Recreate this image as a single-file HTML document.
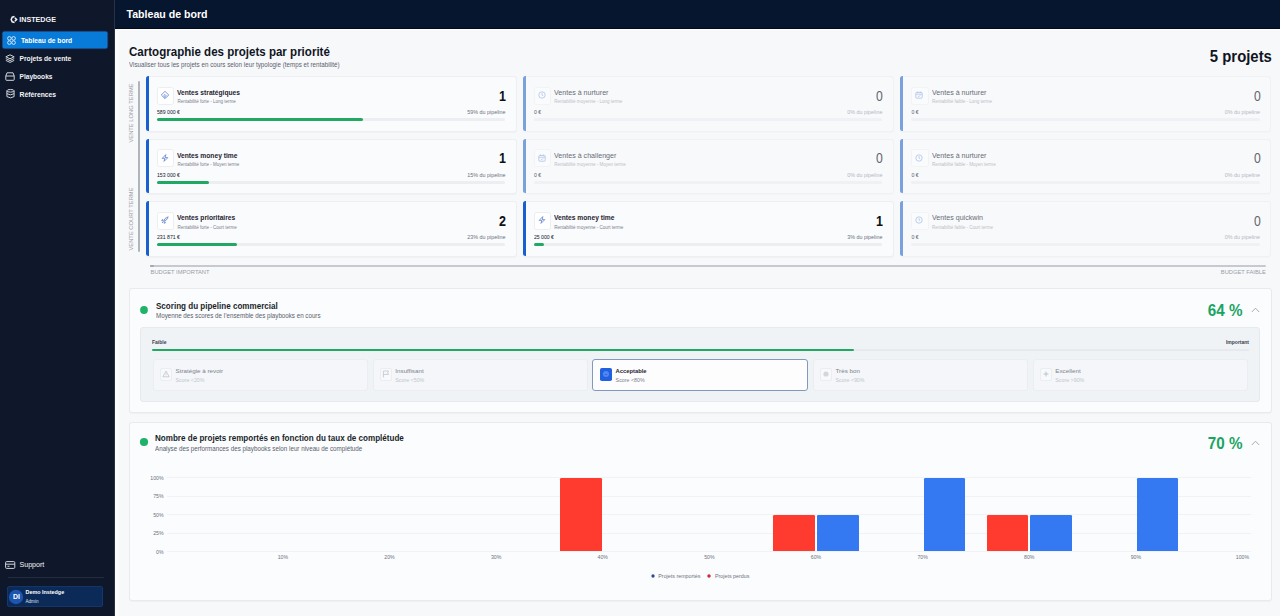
<!DOCTYPE html>
<html><head><meta charset="utf-8"><title>Tableau de bord</title>
<style>
html,body{margin:0;padding:0;}
body{width:1280px;height:616px;overflow:hidden;position:relative;background:#f7f8fa;font-family:"Liberation Sans",sans-serif;}
.r{position:absolute;}
.t{position:absolute;white-space:nowrap;}
svg.r{overflow:visible;}
#w{position:absolute;left:0;top:0;width:1280px;height:616px;overflow:hidden;}
</style></head><body>
<div id="w">
<div class="r" style="left:0.00px;top:0.00px;width:114.50px;height:616.00px;background:#0f172a;"></div>
<div class="r" style="left:113.60px;top:0.00px;width:1.00px;height:616.00px;background:#283145;"></div>
<svg class="r" style="left:10.20px;top:15.40px;" width="8" height="9" viewBox="0 0 8 9"><g fill="none" stroke="#f3f4f6" stroke-width="1.5"><path d="M4.6 1.6 L2.2 2.2 L1.2 4.5 L2.2 6.8 L4.6 7.4"/><path d="M4.9 2.9 L6.6 4.5 L4.9 6.1"/></g></svg>
<div class="t" style="top:16.31px;font-size:7.2px;line-height:7.2px;font-weight:bold;color:#f3f4f6;left:19.20px;">INSTEDGE</div>
<div class="r" style="left:3.00px;top:32.00px;width:104.00px;height:16.00px;background:#087ad8;border-radius:1.2px;box-shadow:0 0 0 0.5px rgba(110,185,250,0.45),0 0 1.6px 1px rgba(0,70,160,0.6);"></div>
<svg class="r" style="left:7.00px;top:35.80px;" width="9" height="9" viewBox="0 0 9 9"><g fill="none" stroke="#cfe6ff" stroke-width="1"><circle cx="2.4" cy="2.4" r="1.8"/><circle cx="6.6" cy="2.4" r="1.8"/><circle cx="2.4" cy="6.6" r="1.8"/><circle cx="6.6" cy="6.6" r="1.8"/></g></svg>
<div class="t" style="top:38.03px;font-size:6.7px;line-height:6.7px;font-weight:bold;color:#ffffff;left:21.00px;">Tableau de bord</div>
<svg class="r" style="left:5.20px;top:54.00px;" width="10" height="9" viewBox="0 0 10 9"><g fill="none" stroke="#d1d5db" stroke-width="1" stroke-linejoin="round"><path d="M5 0.8 L9.2 2.8 L5 4.8 L0.8 2.8 Z"/><path d="M0.8 4.6 L5 6.6 L9.2 4.6"/><path d="M0.8 6.4 L5 8.4 L9.2 6.4"/></g></svg>
<div class="t" style="top:55.93px;font-size:6.7px;line-height:6.7px;font-weight:bold;color:#f3f4f6;left:19.50px;">Projets de vente</div>
<svg class="r" style="left:5.20px;top:71.50px;" width="10" height="9" viewBox="0 0 10 9"><g fill="none" stroke="#d1d5db" stroke-width="1"><path d="M2 0.8 H8 L9.2 4 V7.6 Q9.2 8.3 8.5 8.3 H1.5 Q0.8 8.3 0.8 7.6 V4 Z"/><path d="M0.8 4 H9.2"/></g></svg>
<div class="t" style="top:73.91px;font-size:6.6px;line-height:6.6px;font-weight:bold;color:#f3f4f6;left:19.50px;">Playbooks</div>
<svg class="r" style="left:5.60px;top:89.20px;" width="9" height="9.5" viewBox="0 0 9 9.5"><g fill="none" stroke="#d1d5db" stroke-width="1"><ellipse cx="4.5" cy="1.8" rx="3.6" ry="1.3"/><path d="M0.9 1.8 V7.6 Q4.5 10 8.1 7.6 V1.8"/><path d="M0.9 4.7 Q4.5 7 8.1 4.7"/></g></svg>
<div class="t" style="top:91.74px;font-size:6.8px;line-height:6.8px;font-weight:bold;color:#f3f4f6;left:19.50px;">Références</div>
<svg class="r" style="left:4.80px;top:560.60px;" width="10.4" height="8" viewBox="0 0 10.4 8"><g fill="none" stroke="#d1d5db" stroke-width="1"><rect x="0.6" y="0.6" width="9.2" height="6.8" rx="1"/><path d="M0.6 3.2 H9.8"/><path d="M2.5 5.3 H4.5"/></g></svg>
<div class="t" style="top:561.69px;font-size:7.1px;line-height:7.1px;font-weight:normal;color:#f3f4f6;left:19.50px;">Support</div>
<div class="r" style="left:8.00px;top:577.20px;width:96.00px;height:0.80px;background:#232c3e;"></div>
<div class="r" style="left:7.00px;top:585.90px;width:96.00px;height:21.00px;background:#0b2a58;border-radius:3px;box-shadow:inset 0 0 0 0.6px rgba(60,110,190,0.35);"></div>
<svg class="r" style="left:6.40px;top:586.60px;" width="20" height="20" viewBox="0 0 20 20"><circle cx="10" cy="10" r="7.2" fill="#1d55b0"/></svg>
<div class="t" style="top:594.16px;font-size:6.9px;line-height:6.9px;font-weight:bold;color:#ffffff;left:-83.60px;width:200px;text-align:center;">DI</div>
<div class="t" style="top:589.93px;font-size:5.4px;line-height:5.4px;font-weight:bold;color:#ffffff;left:25.50px;">Demo Instedge</div>
<div class="t" style="top:600.01px;font-size:4.6px;line-height:4.6px;font-weight:normal;color:#dbe3f0;left:25.50px;">Admin</div>
<div class="r" style="left:114.50px;top:0.00px;width:1165.50px;height:29.20px;background:#06162e;"></div>
<div class="r" style="left:114.50px;top:28.20px;width:1165.50px;height:1.00px;background:#020a17;"></div>
<div class="t" style="top:9.03px;font-size:10.6px;line-height:10.6px;font-weight:bold;color:#ffffff;left:126.50px;">Tableau de bord</div>
<div class="r" style="left:114.50px;top:29.20px;width:1165.50px;height:586.80px;background:#f7f8fa;"></div>
<div class="r" style="left:114.50px;top:29.20px;width:5.00px;height:586.80px;background:linear-gradient(90deg,#fefefe,#f8f9fb);"></div>
<div class="r" style="left:114.50px;top:29.20px;width:1165.50px;height:2.20px;background:linear-gradient(180deg,#ffffff,#f7f8fa);"></div>
<div class="t" style="top:46.13px;font-size:12.6px;line-height:12.6px;font-weight:bold;color:#10151f;left:129.20px;transform:scaleX(0.9170);transform-origin:0 0;">Cartographie des projets par priorité</div>
<div class="t" style="top:61.93px;font-size:6.7px;line-height:6.7px;font-weight:normal;color:#5a616d;left:129.00px;transform:scaleX(0.9340);transform-origin:0 0;">Visualiser tous les projets en cours selon leur typologie (temps et rentabilité)</div>
<div class="t" style="top:48.10px;font-size:16.3px;line-height:16.3px;font-weight:bold;color:#10151f;right:8.40px;text-align:right;transform:scaleX(0.9140);transform-origin:100% 0;">5 projets</div>
<div class="r" style="left:138.20px;top:81.30px;width:1.70px;height:171.00px;background:#b0b4bb;border-radius:1px;"></div>
<div class="r" style="left:150.30px;top:265.10px;width:1116.20px;height:1.60px;background:#c6cad0;border-radius:1px;"></div>
<div class="r" style="left:150.30px;top:265.00px;width:3.40px;height:1.80px;background:#a3a8b0;border-radius:1px;"></div>
<div class="t" style="left:132px;top:112.5px;width:0;height:0;"><div style="position:absolute;left:0;top:0;transform:translate(-50%,-50%) rotate(-90deg);white-space:nowrap;font-size:5.8px;line-height:5.8px;color:#989ea7;">VENTE LONG TERME</div></div>
<div class="t" style="left:132px;top:218.6px;width:0;height:0;"><div style="position:absolute;left:0;top:0;transform:translate(-50%,-50%) rotate(-90deg);white-space:nowrap;font-size:5.8px;line-height:5.8px;color:#989ea7;">VENTE COURT TERME</div></div>
<div class="t" style="top:270.32px;font-size:5.77px;line-height:5.77px;font-weight:normal;color:#989ea7;left:150.60px;">BUDGET IMPORTANT</div>
<div class="t" style="top:270.32px;font-size:5.76px;line-height:5.76px;font-weight:normal;color:#989ea7;right:14.20px;text-align:right;">BUDGET FAIBLE</div>
<div class="r" style="left:145.8px;top:76.0px;width:370px;height:54.8px;">
<div class="r" style="left:0;top:0;width:369px;height:53.8px;background:#fafbfd;border:0.5px solid #edeff2;border-radius:3px;box-shadow:0 0.5px 1px rgba(0,0,0,0.03);"></div>
<div class="r" style="left:0;top:0;width:3px;height:54.8px;background:#1a5fd0;border-radius:2.5px 0 0 2.5px;"></div>
<div class="r" style="left:11.2px;top:10.8px;width:15.4px;height:16px;background:#fff;border:0.6px solid #eceef1;border-radius:2.5px;"></div>
<svg class="r" style="left:15.2px;top:15px;" width="8" height="8" viewBox="0 0 8 8"><g fill="none" stroke="#5a80cf" stroke-width="0.8" stroke-linejoin="round"><path d="M4 0.3 L7.7 4 L4 7.7 L0.3 4 Z"/><path d="M2.3 5.2 L4 3.5 L5.7 5.2"/></g><path d="M4 4.6 L5.3 5.9 L4 7.2 L2.7 5.9 Z" fill="#8fb0ea"/></svg>
<div class="t" style="top:13.07px;font-size:7.0px;line-height:7.0px;font-weight:bold;color:#1f2430;transform:scaleX(0.953);transform-origin:0 0;left:31.6px;">Ventes stratégiques</div>
<div class="t" style="top:24.37px;font-size:4.52px;line-height:4.52px;font-weight:normal;color:#7b818c;left:31.6px;">Rentabilité forte - Long terme</div>
<div class="t" style="top:34.12px;font-size:5.17px;line-height:5.17px;font-weight:normal;color:#111827;left:11.2px;">589 000 €</div>
<div class="t" style="top:12.78px;font-size:14.2px;line-height:14.2px;font-weight:bold;color:#0d1118;transform:scaleX(0.88);transform-origin:100% 0;right:9.80px;text-align:right;">1</div>
<div class="t" style="top:33.95px;font-size:5.37px;line-height:5.37px;font-weight:normal;color:#6b7280;right:10.30px;text-align:right;">59% du pipeline</div>
<div class="r" style="left:11.2px;top:42.1px;width:348.5px;height:2.8px;background:#eceef2;border-radius:2px;"></div>
<div class="r" style="left:11.2px;top:42.1px;width:205.62px;height:2.8px;background:#21a964;border-radius:2px;"></div>
</div>
<div class="r" style="left:522.7px;top:76.0px;width:370px;height:54.8px;">
<div class="r" style="left:0;top:0;width:369px;height:53.8px;background:#f8f9fb;border:0.5px solid #f0f1f4;border-radius:3px;box-shadow:0 0.5px 1px rgba(0,0,0,0.015);"></div>
<div class="r" style="left:0;top:0;width:3px;height:54.8px;background:#7ba1dc;border-radius:2.5px 0 0 2.5px;"></div>
<div class="r" style="left:11.2px;top:10.8px;width:15.4px;height:16px;background:#fafbfc;border:0.6px solid #f1f3f5;border-radius:2.5px;"></div>
<svg class="r" style="left:15.2px;top:15px;" width="8" height="8" viewBox="0 0 8 8"><g fill="none" stroke="#adc3e8" stroke-width="0.8"><circle cx="4" cy="4" r="3.2"/><path d="M4 2.2 V4 L5.2 4.8"/></g></svg>
<div class="t" style="top:13.17px;font-size:7.6px;line-height:7.6px;font-weight:normal;color:#676c75;transform:scaleX(0.935);transform-origin:0 0;left:31.6px;">Ventes à nurturer</div>
<div class="t" style="top:24.37px;font-size:4.52px;line-height:4.52px;font-weight:normal;color:#bcc0c7;left:31.6px;">Rentabilité moyenne - Long terme</div>
<div class="t" style="top:34.12px;font-size:5.17px;line-height:5.17px;font-weight:normal;color:#5a5f68;left:11.2px;">0 €</div>
<div class="t" style="top:12.78px;font-size:14.2px;line-height:14.2px;font-weight:normal;color:#62666e;transform:scaleX(0.86);transform-origin:100% 0;right:9.60px;text-align:right;">0</div>
<div class="t" style="top:33.95px;font-size:5.37px;line-height:5.37px;font-weight:normal;color:#b4b8bf;right:10.30px;text-align:right;">0% du pipeline</div>
<div class="r" style="left:11.2px;top:42.1px;width:348.5px;height:2.8px;background:#eff1f4;border-radius:2px;"></div>
</div>
<div class="r" style="left:900.3px;top:76.0px;width:370px;height:54.8px;">
<div class="r" style="left:0;top:0;width:369px;height:53.8px;background:#f8f9fb;border:0.5px solid #f0f1f4;border-radius:3px;box-shadow:0 0.5px 1px rgba(0,0,0,0.015);"></div>
<div class="r" style="left:0;top:0;width:3px;height:54.8px;background:#7ba1dc;border-radius:2.5px 0 0 2.5px;"></div>
<div class="r" style="left:11.2px;top:10.8px;width:15.4px;height:16px;background:#fafbfc;border:0.6px solid #f1f3f5;border-radius:2.5px;"></div>
<svg class="r" style="left:15.2px;top:15px;" width="8" height="8" viewBox="0 0 8 8"><g fill="none" stroke="#adc3e8" stroke-width="0.8"><rect x="0.8" y="1.4" width="6.4" height="5.8" rx="0.8"/><path d="M0.8 3.2 H7.2 M2.6 0.6 V2 M5.4 0.6 V2"/><path d="M2.8 5 L3.7 5.8 L5.3 4.2"/></g></svg>
<div class="t" style="top:13.17px;font-size:7.6px;line-height:7.6px;font-weight:normal;color:#676c75;transform:scaleX(0.935);transform-origin:0 0;left:31.6px;">Ventes à nurturer</div>
<div class="t" style="top:24.37px;font-size:4.52px;line-height:4.52px;font-weight:normal;color:#bcc0c7;left:31.6px;">Rentabilité faible - Long terme</div>
<div class="t" style="top:34.12px;font-size:5.17px;line-height:5.17px;font-weight:normal;color:#5a5f68;left:11.2px;">0 €</div>
<div class="t" style="top:12.78px;font-size:14.2px;line-height:14.2px;font-weight:normal;color:#62666e;transform:scaleX(0.86);transform-origin:100% 0;right:9.60px;text-align:right;">0</div>
<div class="t" style="top:33.95px;font-size:5.37px;line-height:5.37px;font-weight:normal;color:#b4b8bf;right:10.30px;text-align:right;">0% du pipeline</div>
<div class="r" style="left:11.2px;top:42.1px;width:348.5px;height:2.8px;background:#eff1f4;border-radius:2px;"></div>
</div>
<div class="r" style="left:145.8px;top:138.7px;width:370px;height:54.8px;">
<div class="r" style="left:0;top:0;width:369px;height:53.8px;background:#fafbfd;border:0.5px solid #edeff2;border-radius:3px;box-shadow:0 0.5px 1px rgba(0,0,0,0.03);"></div>
<div class="r" style="left:0;top:0;width:3px;height:54.8px;background:#1a5fd0;border-radius:2.5px 0 0 2.5px;"></div>
<div class="r" style="left:11.2px;top:10.8px;width:15.4px;height:16px;background:#fff;border:0.6px solid #eceef1;border-radius:2.5px;"></div>
<svg class="r" style="left:15.2px;top:15px;" width="8" height="8" viewBox="0 0 8 8"><path d="M4.8 0.6 L1.2 4.4 H3.8 L3 7.4 L6.8 3.6 H4.2 Z" fill="none" stroke="#5a80cf" stroke-width="0.8" stroke-linejoin="round"/></svg>
<div class="t" style="top:13.07px;font-size:7.0px;line-height:7.0px;font-weight:bold;color:#1f2430;transform:scaleX(0.953);transform-origin:0 0;left:31.6px;">Ventes money time</div>
<div class="t" style="top:24.37px;font-size:4.52px;line-height:4.52px;font-weight:normal;color:#7b818c;left:31.6px;">Rentabilité forte - Moyen terme</div>
<div class="t" style="top:34.12px;font-size:5.17px;line-height:5.17px;font-weight:normal;color:#111827;left:11.2px;">153 000 €</div>
<div class="t" style="top:12.78px;font-size:14.2px;line-height:14.2px;font-weight:bold;color:#0d1118;transform:scaleX(0.88);transform-origin:100% 0;right:9.80px;text-align:right;">1</div>
<div class="t" style="top:33.95px;font-size:5.37px;line-height:5.37px;font-weight:normal;color:#6b7280;right:10.30px;text-align:right;">15% du pipeline</div>
<div class="r" style="left:11.2px;top:42.1px;width:348.5px;height:2.8px;background:#eceef2;border-radius:2px;"></div>
<div class="r" style="left:11.2px;top:42.1px;width:52.27px;height:2.8px;background:#21a964;border-radius:2px;"></div>
</div>
<div class="r" style="left:522.7px;top:138.7px;width:370px;height:54.8px;">
<div class="r" style="left:0;top:0;width:369px;height:53.8px;background:#f8f9fb;border:0.5px solid #f0f1f4;border-radius:3px;box-shadow:0 0.5px 1px rgba(0,0,0,0.015);"></div>
<div class="r" style="left:0;top:0;width:3px;height:54.8px;background:#7ba1dc;border-radius:2.5px 0 0 2.5px;"></div>
<div class="r" style="left:11.2px;top:10.8px;width:15.4px;height:16px;background:#fafbfc;border:0.6px solid #f1f3f5;border-radius:2.5px;"></div>
<svg class="r" style="left:15.2px;top:15px;" width="8" height="8" viewBox="0 0 8 8"><g fill="none" stroke="#adc3e8" stroke-width="0.8"><rect x="0.8" y="1.4" width="6.4" height="5.8" rx="0.8"/><path d="M0.8 3.2 H7.2 M2.6 0.6 V2 M5.4 0.6 V2"/><path d="M2.8 5 L3.7 5.8 L5.3 4.2"/></g></svg>
<div class="t" style="top:13.17px;font-size:7.6px;line-height:7.6px;font-weight:normal;color:#676c75;transform:scaleX(0.935);transform-origin:0 0;left:31.6px;">Ventes à challenger</div>
<div class="t" style="top:24.37px;font-size:4.52px;line-height:4.52px;font-weight:normal;color:#bcc0c7;left:31.6px;">Rentabilité moyenne - Moyen terme</div>
<div class="t" style="top:34.12px;font-size:5.17px;line-height:5.17px;font-weight:normal;color:#5a5f68;left:11.2px;">0 €</div>
<div class="t" style="top:12.78px;font-size:14.2px;line-height:14.2px;font-weight:normal;color:#62666e;transform:scaleX(0.86);transform-origin:100% 0;right:9.60px;text-align:right;">0</div>
<div class="t" style="top:33.95px;font-size:5.37px;line-height:5.37px;font-weight:normal;color:#b4b8bf;right:10.30px;text-align:right;">0% du pipeline</div>
<div class="r" style="left:11.2px;top:42.1px;width:348.5px;height:2.8px;background:#eff1f4;border-radius:2px;"></div>
</div>
<div class="r" style="left:900.3px;top:138.7px;width:370px;height:54.8px;">
<div class="r" style="left:0;top:0;width:369px;height:53.8px;background:#f8f9fb;border:0.5px solid #f0f1f4;border-radius:3px;box-shadow:0 0.5px 1px rgba(0,0,0,0.015);"></div>
<div class="r" style="left:0;top:0;width:3px;height:54.8px;background:#7ba1dc;border-radius:2.5px 0 0 2.5px;"></div>
<div class="r" style="left:11.2px;top:10.8px;width:15.4px;height:16px;background:#fafbfc;border:0.6px solid #f1f3f5;border-radius:2.5px;"></div>
<svg class="r" style="left:15.2px;top:15px;" width="8" height="8" viewBox="0 0 8 8"><g fill="none" stroke="#adc3e8" stroke-width="0.8"><circle cx="4" cy="4" r="3.2"/><path d="M4 2.2 V4 L5.2 4.8"/></g></svg>
<div class="t" style="top:13.17px;font-size:7.6px;line-height:7.6px;font-weight:normal;color:#676c75;transform:scaleX(0.935);transform-origin:0 0;left:31.6px;">Ventes à nurturer</div>
<div class="t" style="top:24.37px;font-size:4.52px;line-height:4.52px;font-weight:normal;color:#bcc0c7;left:31.6px;">Rentabilité faible - Moyen terme</div>
<div class="t" style="top:34.12px;font-size:5.17px;line-height:5.17px;font-weight:normal;color:#5a5f68;left:11.2px;">0 €</div>
<div class="t" style="top:12.78px;font-size:14.2px;line-height:14.2px;font-weight:normal;color:#62666e;transform:scaleX(0.86);transform-origin:100% 0;right:9.60px;text-align:right;">0</div>
<div class="t" style="top:33.95px;font-size:5.37px;line-height:5.37px;font-weight:normal;color:#b4b8bf;right:10.30px;text-align:right;">0% du pipeline</div>
<div class="r" style="left:11.2px;top:42.1px;width:348.5px;height:2.8px;background:#eff1f4;border-radius:2px;"></div>
</div>
<div class="r" style="left:145.8px;top:201.3px;width:370px;height:54.8px;">
<div class="r" style="left:0;top:0;width:369px;height:53.8px;background:#fafbfd;border:0.5px solid #edeff2;border-radius:3px;box-shadow:0 0.5px 1px rgba(0,0,0,0.03);"></div>
<div class="r" style="left:0;top:0;width:3px;height:54.8px;background:#1a5fd0;border-radius:2.5px 0 0 2.5px;"></div>
<div class="r" style="left:11.2px;top:10.8px;width:15.4px;height:16px;background:#fff;border:0.6px solid #eceef1;border-radius:2.5px;"></div>
<svg class="r" style="left:15.2px;top:15px;" width="8" height="8" viewBox="0 0 8 8"><g fill="none" stroke="#5a80cf" stroke-width="0.8" stroke-linejoin="round"><path d="M2.6 5.4 Q3.2 2 7.2 0.8 Q6 4.8 2.6 5.4 Z"/><path d="M2.2 3.6 L1 3.8 L0.8 5 L2.4 4.6"/><path d="M4.4 5.8 L4.2 7 L3 7.2 L3.4 5.6"/><path d="M1 7 L2 6"/></g></svg>
<div class="t" style="top:13.07px;font-size:7.0px;line-height:7.0px;font-weight:bold;color:#1f2430;transform:scaleX(0.953);transform-origin:0 0;left:31.6px;">Ventes prioritaires</div>
<div class="t" style="top:24.37px;font-size:4.52px;line-height:4.52px;font-weight:normal;color:#7b818c;left:31.6px;">Rentabilité forte - Court terme</div>
<div class="t" style="top:34.12px;font-size:5.17px;line-height:5.17px;font-weight:normal;color:#111827;left:11.2px;">231 871 €</div>
<div class="t" style="top:12.78px;font-size:14.2px;line-height:14.2px;font-weight:bold;color:#0d1118;transform:scaleX(0.88);transform-origin:100% 0;right:9.80px;text-align:right;">2</div>
<div class="t" style="top:33.95px;font-size:5.37px;line-height:5.37px;font-weight:normal;color:#6b7280;right:10.30px;text-align:right;">23% du pipeline</div>
<div class="r" style="left:11.2px;top:42.1px;width:348.5px;height:2.8px;background:#eceef2;border-radius:2px;"></div>
<div class="r" style="left:11.2px;top:42.1px;width:80.16px;height:2.8px;background:#21a964;border-radius:2px;"></div>
</div>
<div class="r" style="left:522.7px;top:201.3px;width:370px;height:54.8px;">
<div class="r" style="left:0;top:0;width:369px;height:53.8px;background:#fafbfd;border:0.5px solid #edeff2;border-radius:3px;box-shadow:0 0.5px 1px rgba(0,0,0,0.03);"></div>
<div class="r" style="left:0;top:0;width:3px;height:54.8px;background:#1a5fd0;border-radius:2.5px 0 0 2.5px;"></div>
<div class="r" style="left:11.2px;top:10.8px;width:15.4px;height:16px;background:#fff;border:0.6px solid #eceef1;border-radius:2.5px;"></div>
<svg class="r" style="left:15.2px;top:15px;" width="8" height="8" viewBox="0 0 8 8"><path d="M4.8 0.6 L1.2 4.4 H3.8 L3 7.4 L6.8 3.6 H4.2 Z" fill="none" stroke="#5a80cf" stroke-width="0.8" stroke-linejoin="round"/></svg>
<div class="t" style="top:13.07px;font-size:7.0px;line-height:7.0px;font-weight:bold;color:#1f2430;transform:scaleX(0.953);transform-origin:0 0;left:31.6px;">Ventes money time</div>
<div class="t" style="top:24.37px;font-size:4.52px;line-height:4.52px;font-weight:normal;color:#7b818c;left:31.6px;">Rentabilité moyenne - Court terme</div>
<div class="t" style="top:34.12px;font-size:5.17px;line-height:5.17px;font-weight:normal;color:#111827;left:11.2px;">25 000 €</div>
<div class="t" style="top:12.78px;font-size:14.2px;line-height:14.2px;font-weight:bold;color:#0d1118;transform:scaleX(0.88);transform-origin:100% 0;right:9.80px;text-align:right;">1</div>
<div class="t" style="top:33.95px;font-size:5.37px;line-height:5.37px;font-weight:normal;color:#6b7280;right:10.30px;text-align:right;">3% du pipeline</div>
<div class="r" style="left:11.2px;top:42.1px;width:348.5px;height:2.8px;background:#eceef2;border-radius:2px;"></div>
<div class="r" style="left:11.2px;top:42.1px;width:10.46px;height:2.8px;background:#21a964;border-radius:2px;"></div>
</div>
<div class="r" style="left:900.3px;top:201.3px;width:370px;height:54.8px;">
<div class="r" style="left:0;top:0;width:369px;height:53.8px;background:#f8f9fb;border:0.5px solid #f0f1f4;border-radius:3px;box-shadow:0 0.5px 1px rgba(0,0,0,0.015);"></div>
<div class="r" style="left:0;top:0;width:3px;height:54.8px;background:#7ba1dc;border-radius:2.5px 0 0 2.5px;"></div>
<div class="r" style="left:11.2px;top:10.8px;width:15.4px;height:16px;background:#fafbfc;border:0.6px solid #f1f3f5;border-radius:2.5px;"></div>
<svg class="r" style="left:15.2px;top:15px;" width="8" height="8" viewBox="0 0 8 8"><g fill="none" stroke="#adc3e8" stroke-width="0.8"><circle cx="4" cy="4" r="3.2"/><path d="M4 2.2 V4 L5.2 4.8"/></g></svg>
<div class="t" style="top:13.17px;font-size:7.6px;line-height:7.6px;font-weight:normal;color:#676c75;transform:scaleX(0.935);transform-origin:0 0;left:31.6px;">Ventes quickwin</div>
<div class="t" style="top:24.37px;font-size:4.52px;line-height:4.52px;font-weight:normal;color:#bcc0c7;left:31.6px;">Rentabilité faible - Court terme</div>
<div class="t" style="top:34.12px;font-size:5.17px;line-height:5.17px;font-weight:normal;color:#5a5f68;left:11.2px;">0 €</div>
<div class="t" style="top:12.78px;font-size:14.2px;line-height:14.2px;font-weight:normal;color:#62666e;transform:scaleX(0.86);transform-origin:100% 0;right:9.60px;text-align:right;">0</div>
<div class="t" style="top:33.95px;font-size:5.37px;line-height:5.37px;font-weight:normal;color:#b4b8bf;right:10.30px;text-align:right;">0% du pipeline</div>
<div class="r" style="left:11.2px;top:42.1px;width:348.5px;height:2.8px;background:#eff1f4;border-radius:2px;"></div>
</div>
<div class="r" style="left:129.30px;top:287.60px;width:1142.80px;height:125.20px;background:#fbfcfd;border:0.6px solid #e8eaee;border-radius:3px;box-sizing:border-box;box-shadow:0 0.5px 1px rgba(0,0,0,0.03);"></div>
<svg class="r" style="left:139.00px;top:304.60px;" width="10" height="10" viewBox="0 0 10 10"><circle cx="5" cy="5" r="3.9" fill="#1fb26b"/></svg>
<div class="t" style="top:301.63px;font-size:9.3px;line-height:9.3px;font-weight:bold;color:#1a1f2a;left:155.60px;transform:scaleX(0.8660);transform-origin:0 0;">Scoring du pipeline commercial</div>
<div class="t" style="top:313.14px;font-size:6.8px;line-height:6.8px;font-weight:normal;color:#5a616d;left:155.60px;transform:scaleX(0.9150);transform-origin:0 0;">Moyenne des scores de l’ensemble des playbooks en cours</div>
<div class="t" style="top:302.86px;font-size:16.0px;line-height:16.0px;font-weight:bold;color:#1aa463;right:37.70px;text-align:right;transform:scaleX(0.9500);transform-origin:100% 0;">64 %</div>
<svg class="r" style="left:1250.50px;top:307.00px;" width="9" height="6" viewBox="0 0 9 6"><path d="M0.8 5 L4.5 1.2 L8.2 5" fill="none" stroke="#9ca3af" stroke-width="0.9"/></svg>
<div class="r" style="left:140.30px;top:327.40px;width:1119.60px;height:74.40px;background:#f0f3f6;border:0.6px solid #e6e9ee;border-radius:3px;box-sizing:border-box;"></div>
<div class="t" style="top:339.87px;font-size:5.0px;line-height:5.0px;font-weight:bold;color:#374151;left:152.00px;">Faible</div>
<div class="t" style="top:339.87px;font-size:5.0px;line-height:5.0px;font-weight:bold;color:#374151;right:31.00px;text-align:right;">Important</div>
<div class="r" style="left:152.00px;top:348.50px;width:1097.00px;height:2.60px;background:#e6e9ee;border-radius:2px;"></div>
<div class="r" style="left:152.00px;top:348.50px;width:702.08px;height:2.60px;background:#21a964;border-radius:2px;"></div>
<div class="r" style="left:153.0px;top:359.2px;width:215.4px;height:31.4px;background:#f4f6f9;border:0.6px solid #eaedf1;border-radius:3px;box-sizing:border-box;"></div>
<div class="r" style="left:153.0px;top:359.2px;width:215.4px;height:31.4px;">
<div class="r" style="left:6.8px;top:8.6px;width:12px;height:12.8px;background:#f7f9fb;border:0.6px solid #eaedf1;border-radius:2px;box-sizing:border-box;"></div>
<svg class="r" style="left:8.8px;top:11px;" width="8" height="8" viewBox="0 0 8 8"><g fill="none" stroke="#b9bec5" stroke-width="0.7" stroke-linejoin="round"><path d="M4 1 L7.2 6.8 H0.8 Z"/><path d="M4 3.2 V4.8 M4 5.6 V5.9"/></g></svg>
<div class="t" style="left:22.5px;top:9.11px;font-size:6.25px;line-height:6.25px;font-weight:normal;color:#7d828b;">Stratégie à revoir</div>
<div class="t" style="left:22.5px;top:18.51px;font-size:5.3px;line-height:5.3px;color:#c2c6cc;">Score <20%</div>
</div>
<div class="r" style="left:372.8px;top:359.2px;width:215.4px;height:31.4px;background:#f4f6f9;border:0.6px solid #eaedf1;border-radius:3px;box-sizing:border-box;"></div>
<div class="r" style="left:372.8px;top:359.2px;width:215.4px;height:31.4px;">
<div class="r" style="left:6.8px;top:8.6px;width:12px;height:12.8px;background:#f7f9fb;border:0.6px solid #eaedf1;border-radius:2px;box-sizing:border-box;"></div>
<svg class="r" style="left:8.8px;top:11px;" width="8" height="8" viewBox="0 0 8 8"><g fill="none" stroke="#b9bec5" stroke-width="0.7"><path d="M1.4 7.4 V1 H6.6 L5.6 2.8 L6.6 4.4 H1.4"/></g></svg>
<div class="t" style="left:22.5px;top:9.11px;font-size:6.25px;line-height:6.25px;font-weight:normal;color:#7d828b;">Insuffisant</div>
<div class="t" style="left:22.5px;top:18.51px;font-size:5.3px;line-height:5.3px;color:#c2c6cc;">Score <50%</div>
</div>
<div class="r" style="left:592.4px;top:359.2px;width:215.4px;height:31.4px;background:#fdfdfe;border:1px solid #8299bf;border-radius:3px;box-sizing:border-box;"></div>
<div class="r" style="left:599.90px;top:368.00px;width:12.10px;height:12.50px;background:#2161df;border-radius:1.8px;"></div>
<svg class="r" style="left:602.00px;top:370.20px;" width="8" height="8" viewBox="0 0 8 8"><circle cx="4" cy="4" r="3" fill="#4f88f2"/><path d="M2.9 4.4 H5.1" stroke="#2a4fae" stroke-width="0.6"/></svg>
<div class="t" style="top:368.67px;font-size:5.82px;line-height:5.82px;font-weight:bold;color:#1f2430;left:615.60px;">Acceptable</div>
<div class="t" style="top:377.71px;font-size:5.3px;line-height:5.3px;font-weight:normal;color:#7b818c;left:615.60px;">Score <80%</div>
<div class="r" style="left:813.0px;top:359.2px;width:215.4px;height:31.4px;background:#f4f6f9;border:0.6px solid #eaedf1;border-radius:3px;box-sizing:border-box;"></div>
<div class="r" style="left:813.0px;top:359.2px;width:215.4px;height:31.4px;">
<div class="r" style="left:6.8px;top:8.6px;width:12px;height:12.8px;background:#f7f9fb;border:0.6px solid #eaedf1;border-radius:2px;box-sizing:border-box;"></div>
<svg class="r" style="left:8.8px;top:11px;" width="8" height="8" viewBox="0 0 8 8"><g fill="#d3d6db"><circle cx="4" cy="4" r="2.6"/></g></svg>
<div class="t" style="left:22.5px;top:9.11px;font-size:6.25px;line-height:6.25px;font-weight:normal;color:#7d828b;">Très bon</div>
<div class="t" style="left:22.5px;top:18.51px;font-size:5.3px;line-height:5.3px;color:#c2c6cc;">Score <90%</div>
</div>
<div class="r" style="left:1032.8px;top:359.2px;width:215.4px;height:31.4px;background:#f4f6f9;border:0.6px solid #eaedf1;border-radius:3px;box-sizing:border-box;"></div>
<div class="r" style="left:1032.8px;top:359.2px;width:215.4px;height:31.4px;">
<div class="r" style="left:6.8px;top:8.6px;width:12px;height:12.8px;background:#f7f9fb;border:0.6px solid #eaedf1;border-radius:2px;box-sizing:border-box;"></div>
<svg class="r" style="left:8.8px;top:11px;" width="8" height="8" viewBox="0 0 8 8"><path d="M4 0.8 L4.9 3.1 L7.2 4 L4.9 4.9 L4 7.2 L3.1 4.9 L0.8 4 L3.1 3.1 Z" fill="#cdd1d6"/></svg>
<div class="t" style="left:22.5px;top:9.11px;font-size:6.25px;line-height:6.25px;font-weight:normal;color:#7d828b;">Excellent</div>
<div class="t" style="left:22.5px;top:18.51px;font-size:5.3px;line-height:5.3px;color:#c2c6cc;">Score >90%</div>
</div>
<div class="r" style="left:129.30px;top:421.60px;width:1142.80px;height:179.00px;background:#fbfcfd;border:0.6px solid #e8eaee;border-radius:3px;box-sizing:border-box;box-shadow:0 0.5px 1px rgba(0,0,0,0.03);"></div>
<svg class="r" style="left:139.00px;top:437.30px;" width="10" height="10" viewBox="0 0 10 10"><circle cx="5" cy="5" r="4.1" fill="#1fb26b"/></svg>
<div class="t" style="top:434.43px;font-size:9.3px;line-height:9.3px;font-weight:bold;color:#1a1f2a;left:154.90px;transform:scaleX(0.8680);transform-origin:0 0;">Nombre de projets remportés en fonction du taux de complétude</div>
<div class="t" style="top:446.34px;font-size:6.8px;line-height:6.8px;font-weight:normal;color:#5a616d;left:154.90px;transform:scaleX(0.9190);transform-origin:0 0;">Analyse des performances des playbooks selon leur niveau de complétude</div>
<div class="t" style="top:435.86px;font-size:16.0px;line-height:16.0px;font-weight:bold;color:#1aa463;right:38.00px;text-align:right;transform:scaleX(0.9500);transform-origin:100% 0;">70 %</div>
<svg class="r" style="left:1250.80px;top:440.40px;" width="9" height="6" viewBox="0 0 9 6"><path d="M0.8 5 L4.5 1.2 L8.2 5" fill="none" stroke="#9ca3af" stroke-width="0.9"/></svg>
<div class="r" style="left:167.30px;top:477.30px;width:1084.10px;height:0.80px;background:#f1f2f5;"></div>
<div class="t" style="top:475.90px;font-size:5.2px;line-height:5.2px;font-weight:normal;color:#6b7280;right:1116.40px;text-align:right;">100%</div>
<div class="r" style="left:167.30px;top:495.80px;width:1084.10px;height:0.80px;background:#f1f2f5;"></div>
<div class="t" style="top:494.40px;font-size:5.2px;line-height:5.2px;font-weight:normal;color:#6b7280;right:1116.40px;text-align:right;">75%</div>
<div class="r" style="left:167.30px;top:514.10px;width:1084.10px;height:0.80px;background:#f1f2f5;"></div>
<div class="t" style="top:512.70px;font-size:5.2px;line-height:5.2px;font-weight:normal;color:#6b7280;right:1116.40px;text-align:right;">50%</div>
<div class="r" style="left:167.30px;top:532.50px;width:1084.10px;height:0.80px;background:#f1f2f5;"></div>
<div class="t" style="top:531.10px;font-size:5.2px;line-height:5.2px;font-weight:normal;color:#6b7280;right:1116.40px;text-align:right;">25%</div>
<div class="r" style="left:167.30px;top:551.00px;width:1084.10px;height:0.80px;background:#f1f2f5;"></div>
<div class="t" style="top:549.60px;font-size:5.2px;line-height:5.2px;font-weight:normal;color:#6b7280;right:1116.40px;text-align:right;">0%</div>
<div class="t" style="top:555.10px;font-size:5.2px;line-height:5.2px;font-weight:normal;color:#6b7280;left:182.90px;width:200px;text-align:center;">10%</div>
<div class="t" style="top:555.10px;font-size:5.2px;line-height:5.2px;font-weight:normal;color:#6b7280;left:289.52px;width:200px;text-align:center;">20%</div>
<div class="t" style="top:555.10px;font-size:5.2px;line-height:5.2px;font-weight:normal;color:#6b7280;left:396.14px;width:200px;text-align:center;">30%</div>
<div class="t" style="top:555.10px;font-size:5.2px;line-height:5.2px;font-weight:normal;color:#6b7280;left:502.76px;width:200px;text-align:center;">40%</div>
<div class="t" style="top:555.10px;font-size:5.2px;line-height:5.2px;font-weight:normal;color:#6b7280;left:609.38px;width:200px;text-align:center;">50%</div>
<div class="t" style="top:555.10px;font-size:5.2px;line-height:5.2px;font-weight:normal;color:#6b7280;left:716.00px;width:200px;text-align:center;">60%</div>
<div class="t" style="top:555.10px;font-size:5.2px;line-height:5.2px;font-weight:normal;color:#6b7280;left:822.62px;width:200px;text-align:center;">70%</div>
<div class="t" style="top:555.10px;font-size:5.2px;line-height:5.2px;font-weight:normal;color:#6b7280;left:929.24px;width:200px;text-align:center;">80%</div>
<div class="t" style="top:555.10px;font-size:5.2px;line-height:5.2px;font-weight:normal;color:#6b7280;left:1035.86px;width:200px;text-align:center;">90%</div>
<div class="t" style="top:555.10px;font-size:5.2px;line-height:5.2px;font-weight:normal;color:#6b7280;left:1142.48px;width:200px;text-align:center;">100%</div>
<div class="r" style="left:560.06px;top:478.10px;width:41.50px;height:73.30px;background:#ff3a2f;border-radius:1.2px 1.2px 0 0;"></div>
<div class="r" style="left:773.30px;top:514.75px;width:41.50px;height:36.65px;background:#ff3a2f;border-radius:1.2px 1.2px 0 0;"></div>
<div class="r" style="left:817.10px;top:514.75px;width:41.50px;height:36.65px;background:#3478f2;border-radius:1.2px 1.2px 0 0;"></div>
<div class="r" style="left:923.72px;top:478.10px;width:41.50px;height:73.30px;background:#3478f2;border-radius:1.2px 1.2px 0 0;"></div>
<div class="r" style="left:986.54px;top:514.75px;width:41.50px;height:36.65px;background:#ff3a2f;border-radius:1.2px 1.2px 0 0;"></div>
<div class="r" style="left:1030.34px;top:514.75px;width:41.50px;height:36.65px;background:#3478f2;border-radius:1.2px 1.2px 0 0;"></div>
<div class="r" style="left:1136.96px;top:478.10px;width:41.50px;height:73.30px;background:#3478f2;border-radius:1.2px 1.2px 0 0;"></div>
<svg class="r" style="left:650.80px;top:574.00px;" width="4" height="4" viewBox="0 0 4 4"><circle cx="2" cy="2" r="1.65" fill="#2a4a9c"/></svg>
<div class="t" style="top:573.87px;font-size:5.35px;line-height:5.35px;font-weight:normal;color:#6b7280;left:658.30px;">Projets remportés</div>
<svg class="r" style="left:707.40px;top:574.00px;" width="4" height="4" viewBox="0 0 4 4"><circle cx="2" cy="2" r="1.75" fill="#cc2b35"/></svg>
<div class="t" style="top:573.87px;font-size:5.35px;line-height:5.35px;font-weight:normal;color:#6b7280;left:715.00px;">Projets perdus</div>
</div></body></html>
